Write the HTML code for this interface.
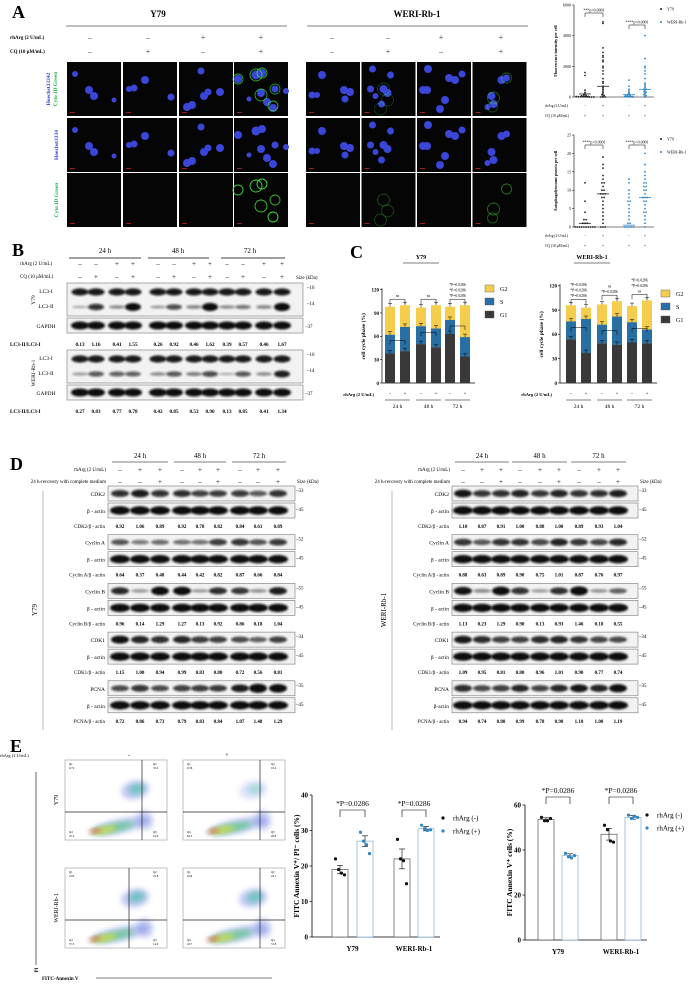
<!DOCTYPE html>
<html><head><meta charset="utf-8">
<style>
html,body{margin:0;padding:0;background:#fff;}
svg{display:block;font-family:"Liberation Serif",serif;}
</style></head>
<body>
<svg id="fig" width="698" height="991" viewBox="0 0 698 991" xmlns="http://www.w3.org/2000/svg">
<defs>
<filter id="bl" x="-20%" y="-50%" width="140%" height="200%"><feGaussianBlur stdDeviation="1.1"/></filter>
<filter id="bl2" x="-50%" y="-50%" width="200%" height="200%"><feGaussianBlur stdDeviation="3"/></filter>
</defs>
</svg>
<script>
// ---------- data ----------
const fluorGroups=['Y79 -','Y79 +','WERI -','WERI +'];
const fluorY79Neg=[1600,1400,450,300,200,150,100,80,60,50,40,30,20,20,10,10,5,0,0,0];
const fluorY79Pos=[4900,4800,3200,2900,2700,2600,2400,2300,2000,1900,1700,1500,1200,1000,900,700,600,500,400,300,200,150,100,50,0,0,0];
const fluorWeriNeg=[1100,700,500,400,300,250,200,150,100,80,60,50,40,30,20,10,5,0];
const fluorWeriPos=[4000,2500,2000,1900,1700,1500,1200,900,800,700,600,500,500,400,350,300,250,200,150,100,50,0];
const fluorMeans=[200,700,150,500];
const fluorTicks=[0,2000,4000,6000];
const punctaY79Neg=[12,7,4,2,2,1,1,1,0,0,0,0,0,0,0,0,0,0];
const punctaY79Pos=[19,17,16,14,13,12,12,11,10,10,9,9,9,8,8,7,6,5,4,3,2,1,0,0,0];
const punctaWeriNeg=[13,12,10,9,8,7,7,6,5,4,3,2,1,1,0,0,0,0,0];
const punctaWeriPos=[20,17,15,14,13,12,12,11,11,10,10,9,8,8,8,7,7,6,5,4,4,3,2,1,0];
const punctaMeans=[1,9,0.5,8];
const punctaTicks=[0,5,10,15,20,25];

const lc3Y79=[0.13,1.16,0.41,1.55,0.26,0.92,0.46,1.62,0.39,0.57,0.46,1.67];
const lc3Weri=[0.27,0.83,0.77,0.78,0.42,0.85,0.53,0.96,0.13,0.85,0.41,1.34];

const ccTicks=[0,30,60,90,120];
const ccY79G1=[38,41,50,46,63,34];
const ccY79S=[62,72,73,70,81,59];
const ccY79G2=[98,100,97,100,98,100];
const ccWeriG1=[54,37,49,47,50,49];
const ccWeriS=[76,79,72,82,75,66];
const ccWeriG2=[96,93,97,101,95,102];

const dProteins=['CDK2','Cyclin A','Cyclin B','CDK1','PCNA'];
const dKda=[33,52,55,34,35];
const dLeft=[[0.92,1.06,0.89,0.92,0.78,0.82,0.84,0.61,0.89],[0.64,0.37,0.48,0.44,0.42,0.82,0.87,0.66,0.84],[0.96,0.14,1.29,1.27,0.13,0.92,0.86,0.18,1.04],[1.15,1.00,0.94,0.99,0.83,0.80,0.72,0.56,0.81],[0.72,0.86,0.73,0.79,0.83,0.84,1.07,1.48,1.29]];
const dRight=[[1.10,0.87,0.91,1.00,0.88,1.00,0.89,0.93,1.04],[0.88,0.63,0.89,0.90,0.75,1.01,0.87,0.76,0.97],[1.13,0.23,1.29,0.90,0.13,0.93,1.46,0.18,0.55],[1.09,0.95,0.81,0.80,0.96,1.01,0.90,0.77,0.74],[0.94,0.74,0.80,0.99,0.78,0.98,1.10,1.00,1.19]];

const eCats=['Y79','WERI-Rb-1'];
const e1Means=[19,27,22,30.5];
const e1Err=[1.2,1.5,2.8,0.6];
const e1Pts=[[22,19,18,17.5],[29.5,27,26,23.5],[27.5,22,21.5,15],[31.5,30.5,30,30.2]];
const e1Ticks=[0,10,20,30,40];
const e2Means=[53.5,37.5,47,54.5];
const e2Err=[0.8,0.8,2.6,0.8];
const e2Pts=[[54.5,53,53,54],[38.5,37,36.5,37.5],[51,49,44,43.5],[55.5,54,55,54.5]];
const e2Ticks=[0,20,40,60];

// ---------- helpers ----------
const NS='http://www.w3.org/2000/svg';
const svg=document.getElementById('fig');
function mk(tag,attrs,parent){const e=document.createElementNS(NS,tag);for(const k in attrs)e.setAttribute(k,attrs[k]);(parent||svg).appendChild(e);return e;}
function nm(e,name){


return e;}
function T(x,y,s,size,name,o){o=o||{};const e=mk('text',{x:x,y:y,'font-size':size,'text-anchor':o.a||'start','font-weight':o.w||'normal',fill:o.f||'#000'},o.p);if(o.r)e.setAttribute('transform','rotate(-90 '+x+' '+y+')');e.textContent=s;nm(e,name);return e;}
function L(x1,y1,x2,y2,name,o){o=o||{};const e=mk('line',{x1:x1,y1:y1,x2:x2,y2:y2,stroke:o.c||'#000','stroke-width':o.w||0.6},o.p);nm(e,name);return e;}
function R(x,y,w,h,name,o){o=o||{};const e=mk('rect',{x:x,y:y,width:w,height:h,fill:o.f||'none',stroke:o.s||'none','stroke-width':o.sw||0.6},o.p);nm(e,name);return e;}

// ---------- Panel A ----------
T(12,18,'A',18,'panel-label-a',{w:'bold'});
T(158,17,'Y79',9,'a-title-y79',{w:'bold',a:'middle'});
T(417,17,'WERI-Rb-1',9,'a-title-weri',{w:'bold',a:'middle'});
L(66,26,287,26,'a-line-y79',{c:'#555',w:0.8});
L(307,26,528,26,'a-line-weri',{c:'#555',w:0.8});
T(10,39,'rhArg (2 U/mL)',5,'a-rharg-label',{w:'bold'});
T(10,53,'CQ (10 μM/mL)',5,'a-cq-label',{w:'bold'});
const aCols=[90,148,203,261,332,388,441,501];
const aRh=['–','–','+','+','–','–','+','+'];
const aCq=['–','+','–','+','–','+','–','+'];
aCols.forEach((x,i)=>{T(x,40,aRh[i],8,'a-rharg-sign',{a:'middle',f:'#333'});T(x,54,aCq[i],8,'a-cq-sign',{a:'middle',f:'#333'});});
const imgX=[67,123,179,234,306,361.5,417,472.5];
const imgY=[62,118,173];
const nuclei=[
[[8,12,3],[22,28,4],[27,34,4],[47,38,2.5]],
[[6,27,3],[11,26,3.5],[22,18,4],[48,35,3.5]],
[[22,9,3.5],[8,45,4],[13,43,4],[25,34,4],[29,30,3.5],[41,30,4]],
[[4,17,4],[22,13,4.5],[28,11,4],[41,27,3.5],[52,29,3],[27,31,4],[33,40,4],[39,46,4],[15,37,2.5]],
[[16,13,4],[6,33,3.5],[11,33,3],[38,28,4],[44,30,4],[39,37,3.5]],
[[11,7,3.5],[29,13,3.5],[9,27,3.5],[22,27,4],[26,31,4],[20,42,3.5],[14,34,3]],
[[11,7,4],[6,28,4],[10,28,4],[32,16,4],[38,18,4],[28,38,4],[23,47,4],[45,12,3.5]],
[[29,18,4],[34,16,3.5],[19,34,4],[21,42,4],[15,45,3]]];
const rings=[null,null,null,[[4,17,5,0.9],[22,13,6,1],[28,11,5,1],[41,27,5,0.8],[27,33,6,0.9],[39,44,5,1]],null,[[22,27,6,0.35],[26,38,6,0.3],[19,47,6,0.3]],null,[[21,36,6,0.5],[20,45,5,0.4],[34,16,5,0.5]]];
for(let c=0;c<8;c++){for(let r=0;r<3;r++){
 const g=mk('g',{transform:'translate('+imgX[c]+','+imgY[r]+')'});nm(g,'micrograph-panel');
 R(0,0,54,54,'micrograph-background',{f:'#050505',p:g});
 if(r<2){nuclei[c].forEach(n=>{const e=mk('circle',{cx:n[0],cy:n[1],r:n[2],fill:'#3a46d8'},g);nm(e,'nucleus');});}
 if(r!==1&&rings[c]){rings[c].forEach(n=>{const e=mk('circle',{cx:n[0],cy:n[1],r:n[2],fill:'none',stroke:'#3fe03a','stroke-width':0.9,opacity:n[3]*(r===0?0.8:1)},g);nm(e,'autophagy-ring');});}
 R(3,50,5,0.8,'scale-bar',{f:'#c22',p:g});
}}
T(50,89,'Hoechst33342',5.5,'row-label-merge-blue',{r:1,a:'middle',f:'#2b3bd0',w:'bold'});
T(57,89,'Cyto ID Green',5.5,'row-label-merge-green',{r:1,a:'middle',f:'#21b04a',w:'bold'});
T(58,145,'Hoechst3334',5.5,'row-label-hoechst',{r:1,a:'middle',f:'#2b3bd0',w:'bold'});
T(58,200,'Cyto ID Green',5.5,'row-label-cyto',{r:1,a:'middle',f:'#21b04a',w:'bold'});

// scatter plots in A
function scatterPlot(cfg){
 const g=mk('g',{});nm(g,cfg.name);
 const ax=574, x1=654, y0=cfg.y0, y1=cfg.y1, max=cfg.ticks[cfg.ticks.length-1];
 const yS=v=>y0-(v/max)*(y0-y1);
 L(ax,y1,ax,y0,'y-axis',{p:g,w:0.6});
 L(ax,y0,x1,y0,'x-axis',{p:g,w:0.6});
 cfg.ticks.forEach(t=>{L(ax-2,yS(t),ax,yS(t),'y-tick',{p:g,w:0.5});T(ax-3,yS(t)+1.5,String(t),4,'y-tick-label',{p:g,a:'end'});});
 T(557,(y0+y1)/2,cfg.title,4,'y-axis-title',{p:g,r:1,a:'middle',w:'bold'});
 const gx=[585,603,629,645];
 cfg.series.forEach((arr,si)=>{
  const col=si<2?'#222':'#2f86c6';
  const cnt={};
  arr.forEach(v=>{const k=Math.round(yS(v));cnt[k]=(cnt[k]||0)+1;});
  const seen={};
  arr.forEach(v=>{const k=Math.round(yS(v));seen[k]=(seen[k]||0)+1;const off=(seen[k]-1-(cnt[k]-1)/2)*2.2;
   const e=mk('circle',{cx:gx[si]+off,cy:yS(v),r:0.9,fill:col},g);nm(e,'data-point');});
  L(gx[si]-6,yS(cfg.means[si]),gx[si]+6,yS(cfg.means[si]),'mean-line',{p:g,w:0.8,c:col});
 });
 T(545,y0+10,'rhArg (2 U/mL)',3.6,'x-label-rharg',{p:g});
 T(545,y0+20,'CQ (10 μM/mL)',3.6,'x-label-cq',{p:g});
 ['-','+','-','+'].forEach((s,i)=>T(gx[i],y0+10,s,4,'rharg-sign',{p:g,a:'middle'}));
 gx.forEach(x=>T(x,y0+20,'+',4,'cq-sign',{p:g,a:'middle'}));
 [[585,603,cfg.sy[0]],[629,645,cfg.sy[1]]].forEach((b,i)=>{
  const e=mk('path',{d:'M'+b[0]+' '+(b[2]+4)+'V'+b[2]+'H'+b[1]+'V'+(b[2]+4),fill:'none',stroke:'#000','stroke-width':0.5},g);nm(e,'significance-bracket');
  T((b[0]+b[1])/2,b[2]-1.5,cfg.sig[i],4,'significance-label',{p:g,a:'middle'});
 });
 const l1=mk('circle',{cx:661,cy:y1+4,r:1,fill:'#222'},g);nm(l1,'legend-marker-y79');
 T(667,y1+5.5,'Y79',4,'legend-entry-y79',{p:g});
 const l2=mk('circle',{cx:661,cy:y1+17,r:1,fill:'#2f86c6'},g);nm(l2,'legend-marker-weri');
 T(667,y1+18.5,'WERI-Rb-1',4,'legend-entry-weri',{p:g});
}
scatterPlot({name:'fluorescence-scatter',y0:97,y1:5,ticks:fluorTicks,series:[fluorY79Neg,fluorY79Pos,fluorWeriNeg,fluorWeriPos],means:fluorMeans,title:'Fluorescence intensity per cell',sy:[13,25],sig:['***p=0.0001','****p=0.0001']});
scatterPlot({name:'puncta-scatter',y0:227,y1:135,ticks:punctaTicks,series:[punctaY79Neg,punctaY79Pos,punctaWeriNeg,punctaWeriPos],means:punctaMeans,title:'Autophagolysosome puncta per cell',sy:[145,145],sig:['****p<0.0001','****p<0.0001']});

// ---------- Panel B ----------
T(12,256,'B',18,'panel-label-b',{w:'bold'});
const bLanes=[80,96,117,133,158,174,194,210,227,243,264,282];
[['24 h',105,69,141],['48 h',178,148,209],['72 h',250,221,285]].forEach(h=>{T(h[1],253,h[0],7,'b-time-header',{a:'middle'});L(h[2],258,h[3],258,'b-time-line',{w:0.7});});
T(20,265,'rhArg (2 U/mL)',5,'b-rharg-label');
T(20,278,'CQ (10 μM/mL)',5,'b-cq-label');
const bRh=['–','–','+','+','–','–','+','+','–','–','+','+'];
const bCq=['–','+','–','+','–','+','–','+','–','+','–','+'];
bLanes.forEach((x,i)=>{T(x,266,bRh[i],7,'b-rharg-sign',{a:'middle'});T(x,279,bCq[i],7,'b-cq-sign',{a:'middle'});});
T(296,279,'Size (kDa)',5,'b-size-header');
function blotBox(x,y,w,h,name){const g=mk('g',{});nm(g,name);R(x,y,w,h,'blot-frame',{f:'#f2f2f2',s:'#777',sw:0.6,p:g});return g;}
function band(g,x,y,rx,ry,op){const e=mk('ellipse',{cx:x,cy:y,rx:rx,ry:ry,fill:'#0d0d0d',opacity:Math.min(1,op),filter:'url(#bl)'},g);nm(e,'blot-band');}
function bBlot(top,ratios,cell){
 const g1=blotBox(67,top,236,33,'lc3-blot-'+cell);
 bLanes.forEach((x,i)=>{band(g1,x,top+9,8.5,3.6,0.95);band(g1,x,top+24,8,1+Math.min(1.67,ratios[i])*1.9,0.25+ratios[i]*0.5);});
 const g2=blotBox(67,top+35,236,15,'gapdh-blot-'+cell);
 bLanes.forEach(x=>band(g2,x,top+42.5,9,4,1));
 T(46,top+10,'LC3-I',5.5,'lc3-i-label',{a:'middle'});
 T(46,top+25,'LC3-II',5.5,'lc3-ii-label',{a:'middle'});
 T(46,top+45,'GAPDH',5.5,'gapdh-label',{a:'middle'});
 T(307,top+6,'–16',5,'kda-16');T(307,top+22,'–14',5,'kda-14');T(305,top+45,'–37',5,'kda-37');
 T(10,top+63,'LC3-II/LC3-I',5.2,'ratio-label',{w:'bold'});
 bLanes.forEach((x,i)=>T(x,top+63,ratios[i].toFixed(2),5.2,'lc3-ratio-value',{a:'middle',w:'bold'}));
}
bBlot(283,lc3Y79,'y79');
bBlot(350,lc3Weri,'weri');
T(35,300,'Y79',5.5,'b-cell-label-y79',{r:1,a:'middle'});
T(35,373,'WERI-Rb-1',5.5,'b-cell-label-weri',{r:1,a:'middle'});

// ---------- Panel C ----------
T(350,258,'C',18,'panel-label-c',{w:'bold'});
const ccCol={G1:'#3a3838',S:'#2a6fa3',G2:'#f4cd4d'};
function ccChart(cfg){
 const g=mk('g',{});nm(g,cfg.name);
 const yS=v=>cfg.y0-v*cfg.k;
 T(cfg.titleX,259,cfg.title,6,'c-chart-title',{p:g,a:'middle',w:'bold'});
 L(cfg.titleX-18,263,cfg.titleX+18,263,'c-title-underline',{p:g,w:0.6});
 L(cfg.ax,yS(122),cfg.ax,cfg.y0,'y-axis',{p:g,w:0.7});
 L(cfg.ax,cfg.y0,cfg.bx[5]+10,cfg.y0,'x-axis',{p:g,w:0.7});
 ccTicks.forEach(t=>{L(cfg.ax-2,yS(t),cfg.ax,yS(t),'y-tick',{p:g,w:0.6});T(cfg.ax-3,yS(t)+1.8,String(t),5,'y-tick-label',{p:g,a:'end',w:'bold'});});
 T(cfg.ax-17,yS(60),'cell cycle phase (%)',5.5,'y-axis-title',{p:g,r:1,a:'middle',w:'bold'});
 cfg.bx.forEach((x,i)=>{
  const r1=R(x-5,yS(cfg.g2[i]),10,yS(cfg.s[i])-yS(cfg.g2[i]),'bar-g2',{f:ccCol.G2,p:g});
  const r2=R(x-5,yS(cfg.s[i]),10,yS(cfg.g1[i])-yS(cfg.s[i]),'bar-s',{f:ccCol.S,p:g});
  const r3=R(x-5,yS(cfg.g1[i]),10,yS(0)-yS(cfg.g1[i]),'bar-g1',{f:ccCol.G1,p:g});
  [cfg.g1[i],cfg.s[i],cfg.g2[i]].forEach(v=>{L(x,yS(v)-3,x,yS(v),'error-bar',{p:g,w:0.5});L(x-2,yS(v)-3,x+2,yS(v)-3,'error-cap',{p:g,w:0.5});});
  T(x,cfg.y0+12,i%2?'+':'-',5,'rharg-sign',{p:g,a:'middle'});
 });
 T(cfg.ax-8,cfg.y0+13,'rhArg (2 U/mL)',4.5,'x-label-rharg',{p:g,a:'end',w:'bold'});
 ['24 h','48 h','72 h'].forEach((s,j)=>{const a=cfg.bx[2*j],b=cfg.bx[2*j+1];L(a-5,cfg.y0+17,b+5,cfg.y0+17,'time-group-line',{p:g,w:0.6});T((a+b)/2,cfg.y0+25,s,5.5,'time-group-label',{p:g,a:'middle'});});
 for(let j=0;j<3;j++){const a=cfg.bx[2*j],b=cfg.bx[2*j+1];const top=yS(Math.max(cfg.g2[2*j],cfg.g2[2*j+1]))-6;
  const e=mk('path',{d:'M'+a+' '+(top+5)+'V'+top+'H'+b+'V'+(top+5),fill:'none',stroke:'#000','stroke-width':0.5},g);nm(e,'significance-bracket');
  const mid=yS(cfg.s[2*j])+6;const e2=mk('path',{d:'M'+a+' '+(mid+4)+'V'+mid+'H'+b+'V'+(mid+4),fill:'none',stroke:'#000','stroke-width':0.5},g);nm(e2,'significance-bracket');
  cfg.sig[j].forEach((s,k)=>T((a+b)/2,top-2-(cfg.sig[j].length-1-k)*5.5,s,3.8,'significance-label',{p:g,a:'middle'}));}
 [['G2',ccCol.G2],['S',ccCol.S],['G1',ccCol.G1]].forEach((l,k)=>{R(cfg.lx,cfg.ly+k*13,9,7,'legend-swatch-'+l[0].toLowerCase(),{f:l[1],s:'#555',sw:0.4,p:g});T(cfg.lx+15,cfg.ly+k*13+6,l[0],6,'legend-entry-'+l[0].toLowerCase(),{p:g});});
}
ccChart({name:'cell-cycle-chart-y79',title:'Y79',titleX:421,ax:382,y0:383,k:0.778,bx:[390,405,421,436,450,465],g1:ccY79G1,s:ccY79S,g2:ccY79G2,lx:485,ly:285,sig:[['ns'],['ns'],['*P=0.0286','*P=0.0286','*P=0.0286']]});
ccChart({name:'cell-cycle-chart-weri',title:'WERI-Rb-1',titleX:592,ax:560,y0:383,k:0.81,bx:[571,586,602,617,632,647],g1:ccWeriG1,s:ccWeriS,g2:ccWeriG2,lx:661,ly:290,sig:[['*P=0.0286','*P=0.0286','*P=0.0286'],['ns','*P=0.0286'],['*P=0.0286','*P=0.0286','ns']]});

// ---------- Panel D ----------
T(10,470,'D',18,'panel-label-d',{w:'bold'});
function dBlot(cfg){
 const g=mk('g',{});nm(g,cfg.name);
 const L0=cfg.lanes;
 [['24 h',0,2],['48 h',3,5],['72 h',6,8]].forEach(h=>{T((L0[h[1]]+L0[h[2]])/2,458,h[0],7,'d-time-header',{p:g,a:'middle'});L(L0[h[1]]-8,462,L0[h[2]]+8,462,'d-time-line',{p:g,w:0.6});});
 T(cfg.bx-2,471,'rhArg (2 U/mL)',5,'d-rharg-label',{p:g,a:'end'});
 T(cfg.bx-2,483,'24 h-recovery with complete medium',5,'d-recovery-label',{p:g,a:'end'});
 const rh=['–','+','+','–','+','+','–','+','+'],rc=['–','–','+','–','–','+','–','–','+'];
 L0.forEach((x,i)=>{T(x,472,rh[i],7,'d-rharg-sign',{p:g,a:'middle'});T(x,484,rc[i],7,'d-recovery-sign',{p:g,a:'middle'});});
 T(cfg.bx+cfg.bw+2,483,'Size (kDa)',5,'d-size-header',{p:g});
 L(cfg.vx,491,cfg.vx,730,'d-cell-bracket',{p:g,w:0.6,c:'#888'});
 T(cfg.vx-6,610,cfg.cell,7,'d-cell-label',{p:g,r:1,a:'middle'});
 dProteins.forEach((p,b)=>{
  const y0=486+b*48.7;
  const gp=mk('g',{},g);nm(gp,'blot-'+p.toLowerCase().replace(' ','-'));
  R(cfg.bx,y0,cfg.bw,15,'blot-frame',{f:'#f2f2f2',s:'#777',p:gp});
  L0.forEach((x,i)=>band(gp,x,y0+7.5,9,1.5+Math.min(1.4,cfg.vals[b][i])*2.2,0.3+cfg.vals[b][i]*0.6));
  const ga=mk('g',{},g);nm(ga,'blot-beta-actin');
  R(cfg.bx,y0+17,cfg.bw,15,'blot-frame',{f:'#f2f2f2',s:'#777',p:ga});
  L0.forEach(x=>band(ga,x,y0+24.5,10,4.2,1));
  T(cfg.bx-3,y0+10,p,5.5,'protein-label',{p:g,a:'end'});
  T(cfg.bx-3,y0+27,(cfg.cell!=='Y79'&&b===4)?'β-actin':'β - actin',5.5,'actin-label',{p:g,a:'end'});
  T(cfg.bx+cfg.bw+1,y0+6,'–'+dKda[b],5,'kda-label',{p:g});
  T(cfg.bx+cfg.bw+1,y0+25,'–45',5,'kda-label',{p:g});
  T(cfg.bx-3,y0+42,p+'/β - actin',5,'ratio-label',{p:g,a:'end'});
  L0.forEach((x,i)=>T(x,y0+42,cfg.vals[b][i].toFixed(2),5,'ratio-value',{p:g,a:'middle',w:'bold'}));
 });
}
dBlot({name:'d-blots-y79',cell:'Y79',lanes:[120,140,160,182,200,218,240,258,278],bx:108,bw:187,vx:43,vals:dLeft});
dBlot({name:'d-blots-weri',cell:'WERI-Rb-1',lanes:[463,482,501,520,540,559,579,599,618],bx:452,bw:186,vx:392,vals:dRight});

// ---------- Panel E ----------
T(10,752,'E',18,'panel-label-e',{w:'bold'});
T(0,757,'rhArg (2 U/mL)',4.5,'e-rharg-label');
T(129,757,'-',6,'e-minus',{a:'middle'});T(227,757,'+',6,'e-plus',{a:'middle'});
const flowBoxes=[[65,760,'Y79'],[183,760,'Y79'],[65,868,'WERI'],[183,868,'WERI']];
const flowQ=[['0.72','35.2','16.9','47.2'],['0.36','10.4','26.8','62.5'],['2.03','25.8','14.9','57.3'],['0.64','24.1','31.8','43.7']];
flowBoxes.forEach((b,i)=>{
 const g=mk('g',{transform:'translate('+b[0]+','+b[1]+')'});nm(g,'flow-plot');
 R(0,0,102,80,'flow-frame',{f:'#fff',s:'#999',p:g});
 const vx=i===2?64:77, hy=i<2?52:52;
 const top=i===1?0.5:1;
 [[70,30,14,9,'#4a5fd8',0.35*top],[72,29,8,5,'#38c2a0',0.6*top],[55,66,30,7,'#4a5fd8',0.35],[48,68,22,4,'#48c878',0.7],[40,70,12,3,'#e9e23a',0.8],[30,71,6,2,'#e4572e',0.9],[80,60,8,10,'#4a5fd8',0.3]].forEach(c=>{
  const e=mk('ellipse',{cx:c[0],cy:c[1],rx:c[2],ry:c[3],fill:c[4],opacity:c[5],filter:'url(#bl2)',transform:'rotate(-12 '+c[0]+' '+c[1]+')'},g);nm(e,'flow-density');});
 L(vx,0,vx,80,'quadrant-vline',{p:g,w:0.7,c:'#222'});
 L(0,hy,102,hy,'quadrant-hline',{p:g,w:0.7,c:'#222'});
 T(4,5,'Q1',3,'quad-label',{p:g});T(4,9,flowQ[i][0],3,'quad-value',{p:g});
 T(88,5,'Q2',3,'quad-label',{p:g});T(88,9,flowQ[i][1],3,'quad-value',{p:g});
 T(88,73,'Q3',3,'quad-label',{p:g});T(88,77,flowQ[i][2],3,'quad-value',{p:g});
 T(4,73,'Q4',3,'quad-label',{p:g});T(4,77,flowQ[i][3],3,'quad-value',{p:g});
});
T(58,800,'Y79',6,'e-cell-label-y79',{r:1,a:'middle'});
T(58,908,'WERI-Rb-1',6,'e-cell-label-weri',{r:1,a:'middle'});
L(36,965,36,772,'pi-axis-arrow',{w:0.6});
T(38,970,'PI',5,'pi-axis-label',{r:1,a:'middle',w:'bold'});
L(96,978,272,978,'annexin-axis-arrow',{w:0.6});
T(42,980,'FITC-Annexin V',5,'annexin-axis-label',{w:'bold'});

function eChart(cfg){
 const g=mk('g',{});nm(g,cfg.name);
 const max=cfg.ticks[cfg.ticks.length-1];
 const yS=v=>cfg.y0-(v/max)*(cfg.y0-cfg.y1);
 L(cfg.ax,cfg.y1,cfg.ax,cfg.y0,'y-axis',{p:g,w:0.8});
 L(cfg.ax,cfg.y0,cfg.bx[3]+14,cfg.y0,'x-axis',{p:g,w:0.8});
 cfg.ticks.forEach(t=>{L(cfg.ax-2.5,yS(t),cfg.ax,yS(t),'y-tick',{p:g,w:0.7});T(cfg.ax-4,yS(t)+2.5,String(t),7,'y-tick-label',{p:g,a:'end',w:'bold'});});
 T(cfg.tx,(cfg.y0+cfg.y1)/2,cfg.title,7.5,'y-axis-title',{p:g,r:1,a:'middle',w:'bold'});
 cfg.bx.forEach((x,i)=>{
  const col=i%2?'#2f86c6':'#111';
  R(x-8,yS(cfg.means[i]),16,cfg.y0-yS(cfg.means[i]),'bar-'+(i%2?'rharg-pos':'rharg-neg'),{f:'#fff',s:i%2?'#7fb0d6':'#555',sw:0.7,p:g});
  L(x,yS(cfg.means[i]+cfg.err[i]),x,yS(cfg.means[i]-cfg.err[i]),'error-bar',{p:g,w:0.6});
  L(x-3,yS(cfg.means[i]+cfg.err[i]),x+3,yS(cfg.means[i]+cfg.err[i]),'error-cap',{p:g,w:0.6});
  L(x-3,yS(cfg.means[i]-cfg.err[i]),x+3,yS(cfg.means[i]-cfg.err[i]),'error-cap',{p:g,w:0.6});
  cfg.pts[i].forEach((v,k)=>{const e=mk('circle',{cx:x+(k-1.5)*3,cy:yS(v),r:1.6,fill:col},g);nm(e,'data-point');});
 });
 cfg.cats.forEach((c,j)=>{const xm=(cfg.bx[2*j]+cfg.bx[2*j+1])/2;T(xm,cfg.y0+14,c,7,'x-category-label',{p:g,a:'middle',w:'bold'});
  const a=cfg.bx[2*j],b=cfg.bx[2*j+1],sy=cfg.sy[j];
  const e=mk('path',{d:'M'+a+' '+(sy+7)+'V'+sy+'H'+b+'V'+(sy+7),fill:'none',stroke:'#000','stroke-width':0.6},g);nm(e,'significance-bracket');
  T(xm,sy-4,'*P=0.0286',7.5,'significance-label',{p:g,a:'middle'});});
 const d1=mk('circle',{cx:cfg.lx,cy:cfg.ly,r:1.6,fill:'#111'},g);nm(d1,'legend-marker-neg');
 T(cfg.lx+10,cfg.ly+2.5,'rhArg (-)',7,'legend-entry-neg',{p:g});
 const d2=mk('circle',{cx:cfg.lx,cy:cfg.ly+13,r:1.6,fill:'#2f86c6'},g);nm(d2,'legend-marker-pos');
 T(cfg.lx+10,cfg.ly+15.5,'rhArg (+)',7,'legend-entry-pos',{p:g});
}
eChart({name:'apoptosis-early-chart',ax:312,y0:937,y1:795,ticks:e1Ticks,means:e1Means,err:e1Err,pts:e1Pts,bx:[340,365,402,426],cats:eCats,sy:[810,810],title:'FITC Annexin V⁺/ PI⁻ cells (%)',tx:299,lx:443,ly:818});
eChart({name:'apoptosis-total-chart',ax:525,y0:940,y1:805,ticks:e2Ticks,means:e2Means,err:e2Err,pts:e2Pts,bx:[546,570,609,633],cats:eCats,sy:[797,797],title:'FITC Annexin V⁺ cells (%)',tx:512,lx:647,ly:815});
</script>
</body></html>
